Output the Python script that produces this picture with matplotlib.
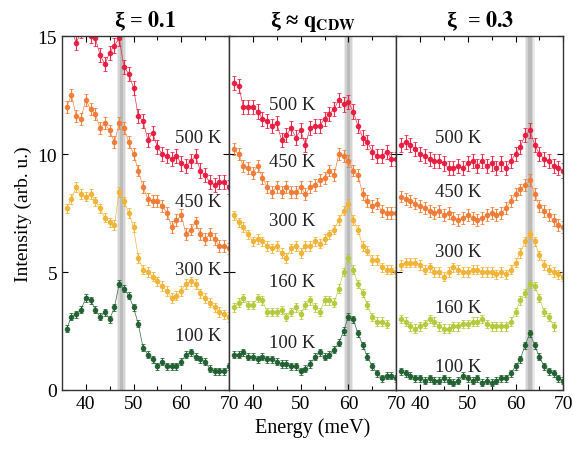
import numpy as np
import matplotlib
matplotlib.use("Agg")
import matplotlib.pyplot as plt

# energy grid (meV), one reading per meV
energy = np.arange(36, 71)

temps = ["500 K", "450 K", "300 K", "160 K", "100 K"]
colors = ["#e8193c", "#f07a32", "#f2b233", "#b4c93a", "#1d5e2e"]
err = [0.3, 0.25, 0.2, 0.18, 0.15]

# panel 1: xi = 0.1 (no 160 K data)
p1_500 = [15.6, 15.3, 14.7, 15.2, 15.4, 15.0, 14.9, 14.2, 13.8, 14.3, 14.6, 14.9, 13.7, 13.4, 12.8,
          11.6, 11.4, 10.6, 10.9, 10.3, 10.0, 9.9, 9.8, 9.9, 9.6, 9.5, 9.7, 9.9, 9.3, 9.1, 8.8, 8.7,
          8.8, 8.8, 8.6]
p1_450 = [12.0, 12.5, 11.6, 11.5, 12.3, 11.9, 11.7, 11.1, 11.3, 11.0, 10.5, 11.3, 11.1, 10.5, 10.0,
          9.3, 8.6, 8.1, 8.0, 8.0, 7.8, 7.5, 6.9, 7.2, 7.4, 6.6, 6.8, 7.1, 6.6, 6.4, 6.6, 6.4, 6.1,
          6.1, 6.0]
p1_300 = [7.7, 8.1, 8.6, 8.3, 8.2, 8.3, 8.0, 7.7, 7.3, 7.1, 7.0, 8.4, 8.0, 7.5, 6.9, 5.6, 5.1, 5.0,
          4.8, 4.6, 4.4, 4.2, 3.9, 4.0, 4.2, 4.5, 4.6, 4.5, 4.1, 3.9, 3.7, 3.5, 3.3, 3.2, 3.1]
p1_100 = [2.6, 3.1, 3.2, 3.4, 3.9, 3.8, 3.4, 3.1, 3.3, 3.0, 3.5, 4.5, 4.3, 4.0, 3.5, 2.8, 1.8, 1.5,
          1.3, 1.0, 1.2, 1.0, 1.0, 1.0, 1.2, 1.5, 1.6, 1.4, 1.3, 1.2, 0.9, 0.8, 0.8, 0.8, 1.0]

# panel 2: xi ~ q_CDW
p2_500 = [13.0, 12.9, 12.0, 12.0, 12.0, 11.8, 11.5, 11.4, 11.2, 11.3, 10.6, 10.8, 11.1, 10.7, 11.0,
          10.4, 11.1, 11.2, 11.2, 11.5, 11.7, 11.9, 12.3, 12.1, 12.2, 11.8, 11.2, 10.7, 10.5, 10.1,
          9.9, 9.9, 10.1, 9.8, 9.8]
p2_450 = [10.2, 10.0, 9.5, 9.4, 9.2, 9.5, 9.0, 8.6, 8.4, 8.6, 8.4, 8.6, 8.4, 8.4, 8.6, 8.3, 8.6, 8.7,
          8.9, 9.0, 9.3, 9.1, 10.0, 9.9, 9.7, 9.3, 9.1, 8.3, 8.0, 7.8, 7.9, 7.6, 7.5, 7.5, 7.5]
p2_300 = [7.4, 7.1, 6.9, 6.6, 6.3, 6.4, 6.3, 6.1, 6.0, 6.1, 5.8, 5.6, 6.0, 6.1, 5.8, 6.1, 6.1, 6.3,
          6.2, 6.4, 6.6, 6.8, 7.2, 7.6, 7.9, 7.2, 6.8, 6.1, 5.9, 5.5, 5.5, 5.2, 5.1, 5.1, 5.0]
p2_160 = [3.5, 3.7, 3.9, 3.6, 3.6, 3.9, 3.8, 3.3, 3.3, 3.3, 3.4, 3.1, 3.3, 3.5, 3.2, 3.6, 3.8, 3.5,
          3.3, 3.8, 3.8, 3.7, 4.3, 5.0, 5.6, 5.1, 4.5, 4.1, 3.6, 3.1, 2.9, 2.9, 2.8, np.nan, np.nan]
p2_100 = [1.5, 1.5, 1.6, 1.4, 1.4, 1.3, 1.4, 1.3, 1.3, 1.2, 1.1, 1.1, 1.0, 1.0, 0.8, 0.9, 1.1, 1.4,
          1.6, 1.4, 1.5, 1.7, 2.0, 2.5, 3.1, 3.0, 2.4, 1.9, 1.4, 1.0, 0.7, 0.5, 0.6, 0.6, 0.5]

# panel 3: xi = 0.3
p3_500 = [10.4, 10.5, 10.4, 10.2, 10.0, 9.9, 9.8, 9.7, 9.7, 9.6, 9.4, 9.4, 9.5, 9.4, 9.6, 9.7, 9.5,
          9.7, 9.5, 9.6, 9.4, 9.6, 9.4, 9.7, 10.0, 10.3, 10.8, 11.0, 10.4, 10.0, 9.8, 9.7, 9.5, 9.4,
          9.3]
p3_450 = [8.2, 8.1, 8.0, 7.9, 7.8, 7.7, 7.6, 7.5, 7.6, 7.4, 7.5, 7.3, 7.2, 7.3, 7.4, 7.3, 7.2, 7.3,
          7.4, 7.5, 7.4, 7.5, 7.7, 8.0, 8.3, 8.5, 8.7, 8.9, 8.3, 7.8, 7.6, 7.4, 7.2, 7.0, 6.9]
p3_300 = [5.3, 5.4, 5.4, 5.4, 5.3, 5.1, 5.2, 5.0, 5.0, 4.8, 5.0, 5.2, 5.1, 5.0, 5.0, 5.1, 5.1, 5.0,
          5.0, 5.0, 4.9, 5.0, 4.9, 5.1, 5.4, 5.8, 6.3, 6.6, 6.3, 5.7, 5.3, 5.1, 5.0, 4.9, 4.8]
p3_160 = [3.0, 2.9, 2.7, 2.6, 2.7, 2.8, 3.0, 2.9, 2.7, 2.6, 2.6, 2.7, 2.7, 2.8, 2.8, 2.9, 2.9, 3.0,
          2.8, 2.7, 2.7, 2.7, 2.7, 2.9, 3.3, 3.8, 4.1, 4.5, 4.4, 3.9, 3.3, 3.1, 2.7, np.nan, np.nan]
p3_100 = [0.8, 0.7, 0.6, 0.5, 0.5, 0.4, 0.5, 0.4, 0.4, 0.5, 0.4, 0.3, 0.4, 0.6, 0.5, 0.4, 0.5, 0.3,
          0.4, 0.3, 0.4, 0.5, 0.5, 0.7, 1.0, 1.3, 1.9, 2.4, 1.9, 1.4, 1.0, 0.8, 0.7, 0.5, 0.4]

panels = [
    {"curves": [p1_500, p1_450, p1_300, None, p1_100], "band": 47.5},
    {"curves": [p2_500, p2_450, p2_300, p2_160, p2_100], "band": 60.0},
    {"curves": [p3_500, p3_450, p3_300, p3_160, p3_100], "band": 63.0},
]
titles = ["ξ = $\\mathbf{0.1}$", "ξ ≈ $\\mathbf{q}_{\\mathbf{CDW}}$", "ξ  = $\\mathbf{0.3}$"]

# label placement (x, y, ha) per panel, per temperature
label_pos = [
    [(68.4, 10.7, "right"), (68.4, 8.0, "right"), (68.4, 5.1, "right"), None, (68.4, 2.3, "right")],
    [(43.3, 12.1, "left"), (43.3, 9.7, "left"), (43.3, 7.2, "left"), (43.3, 4.6, "left"), (43.3, 2.0, "left")],
    [(43.2, 10.7, "left"), (43.2, 8.4, "left"), (43.2, 5.85, "left"), (43.2, 3.5, "left"), (43.2, 1.0, "left")],
]

plt.rcParams["font.family"] = ["Liberation Serif", "DejaVu Serif"]
plt.rcParams["mathtext.fontset"] = "stix"

fig, axes = plt.subplots(1, 3, sharey=True, figsize=(5.73, 4.52), dpi=100)
fig.subplots_adjust(left=0.108, right=0.983, top=0.918, bottom=0.135, wspace=0)

for i, ax in enumerate(axes):
    p = panels[i]
    c = p["band"]
    # soft grey band marking the mode energy
    ax.axvspan(c - 1.0, c + 1.0, color="#c0c0c0", alpha=0.3, lw=0, zorder=0)
    ax.axvspan(c - 0.7, c + 0.7, color="#a8a8a8", alpha=0.35, lw=0, zorder=0)
    ax.axvspan(c - 0.35, c + 0.35, color="#999999", alpha=0.4, lw=0, zorder=0)
    for j, ys in enumerate(p["curves"]):
        if ys is None:
            continue
        ax.errorbar(energy, ys, yerr=err[j], fmt="-o", color=colors[j], ms=3.0, lw=0.5,
                    elinewidth=0.8, capsize=1.2, capthick=0.6, alpha=0.9, zorder=2)
        lp = label_pos[i][j]
        ax.text(lp[0], lp[1], temps[j], ha=lp[2], va="center", fontsize=13.5, color="#222222", zorder=3)
    ax.set_xlim(35, 70)
    ax.set_ylim(0, 15)
    ax.set_xticks([40, 50, 60, 70])
    ax.set_xticks([45, 55, 65], minor=True)
    ax.set_yticks([0, 5, 10, 15])
    ax.tick_params(direction="in", top=True, right=True, labelsize=14, length=4, width=0.8)
    ax.tick_params(which="minor", direction="in", top=True, length=3, width=0.8)
    for s in ax.spines.values():
        s.set_linewidth(1.0)
        s.set_color("#333333")
    ax.set_title(titles[i], fontsize=16, fontweight="bold", pad=7)

axes[0].set_ylabel("Intensity (arb. u.)", fontsize=14)
axes[1].set_xlabel("Energy (meV)", fontsize=14.5)

fig.savefig("out.png", dpi=100)
